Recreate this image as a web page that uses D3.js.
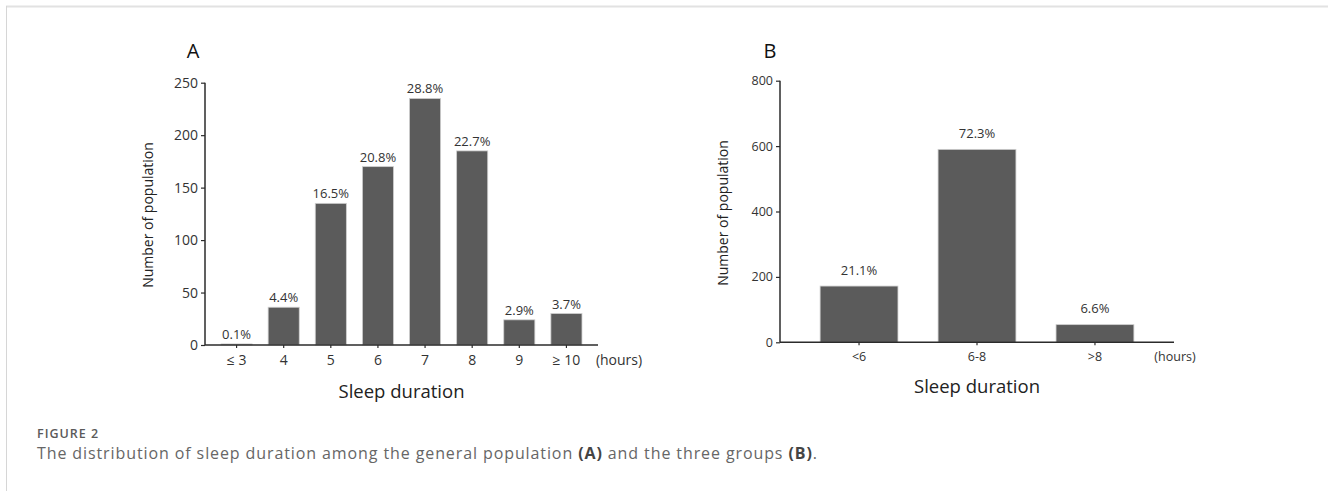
<!DOCTYPE html>
<html>
<head>
<meta charset="utf-8">
<script src="https://cdn.jsdelivr.net/npm/d3@7"></script>
<style>
  html, body { margin: 0; padding: 0; background: #fff; }
  svg text { font-family: "Open Sans", "Noto Sans", sans-serif; }
</style>
</head>
<body>
<svg id="chart" width="1328" height="491"></svg>
<script>
// panel A: every hour
const hoursA = ["≤ 3", "4", "5", "6", "7", "8", "9", "≥ 10"]
const countsA = [1, 36, 135, 170, 235, 185, 24, 30]
const pctA = ["0.1%", "4.4%", "16.5%", "20.8%", "28.8%", "22.7%", "2.9%", "3.7%"]
const ticksA = [0, 50, 100, 150, 200, 250]

// panel B: three groups
const groupsB = ["<6", "6-8", ">8"]
const countsB = [172, 590, 54]
const pctB = ["21.1%", "72.3%", "6.6%"]
const ticksB = [0, 200, 400, 600, 800]

const svg = d3.select("#chart")
const barColor = "#5b5b5b"
const axisColor = "#2b2b2b"
const textColor = "#333"

// frame of the figure box
svg.append("line").attr("x1", 6).attr("x2", 1328).attr("y1", 6.5).attr("y2", 6.5)
    .attr("stroke", "#e2e2e2").attr("stroke-width", 2)
svg.append("line").attr("x1", 6.5).attr("x2", 6.5).attr("y1", 6).attr("y2", 491)
    .attr("stroke", "#d6d6d6").attr("stroke-width", 1)

function drawPanel(opt) {

    const g = svg.append("g")

    const x = d3.scaleBand()
        .domain(opt.cats)
        .range([opt.left, opt.right])
        .padding(0.34)

    const y = d3.scaleLinear()
        .domain([0, opt.max])
        .range([opt.bottom, opt.top])

    // bars
    g.selectAll("rect")
        .data(opt.values)
        .join("rect")
        .attr("x", (d, i) => x(opt.cats[i]))
        .attr("width", x.bandwidth())
        .attr("y", d => y(d))
        .attr("height", d => opt.bottom - y(d))
        .attr("fill", barColor)
        .attr("stroke", "#cfcfcf")
        .attr("stroke-width", 0.8)

    // percent labels
    g.selectAll("text.pct")
        .data(opt.values)
        .join("text")
        .attr("class", "pct")
        .attr("x", (d, i) => x(opt.cats[i]) + x.bandwidth() / 2)
        .attr("y", d => y(d) - opt.pctGap)
        .attr("text-anchor", "middle")
        .attr("font-size", 13)
        .attr("fill", textColor)
        .text((d, i) => opt.pcts[i])

    // y axis
    const yAxis = g.append("g")
        .attr("transform", `translate(${opt.left},0)`)
        .call(d3.axisLeft(y).tickValues(opt.ticks).tickSize(4).tickPadding(3))
    yAxis.select(".domain").attr("stroke", axisColor).attr("stroke-width", 1.5)
        .attr("d", `M0,${opt.top}V${opt.bottom}`)
    yAxis.selectAll(".tick line").attr("stroke", axisColor).attr("stroke-width", 1.2)
    yAxis.selectAll(".tick text")
        .attr("font-family", "Open Sans, sans-serif")
        .attr("font-size", opt.yFont)
        .attr("fill", textColor)

    // x axis
    const xAxis = g.append("g")
        .attr("transform", `translate(0,${opt.bottom})`)
        .call(d3.axisBottom(x).tickSize(3).tickPadding(opt.xPad))
    xAxis.select(".domain").attr("stroke", axisColor).attr("stroke-width", 1.5)
        .attr("d", `M${opt.left},0H${opt.right}`)
    xAxis.selectAll(".tick line").attr("stroke", axisColor).attr("stroke-width", 1.2)
    xAxis.selectAll(".tick text")
        .attr("font-family", "Open Sans, sans-serif")
        .attr("font-size", opt.xFont)
        .attr("fill", textColor)

    // "(hours)"
    g.append("text")
        .attr("x", opt.right + opt.hoursDx)
        .attr("y", opt.bottom + opt.xPad + 3)
        .attr("dy", "0.71em")
        .attr("text-anchor", "middle")
        .attr("font-size", opt.xFont)
        .attr("fill", textColor)
        .text("(hours)")

    // axis titles
    g.append("text")
        .attr("x", (opt.left + opt.right) / 2)
        .attr("y", opt.bottom + opt.titleGap)
        .attr("text-anchor", "middle")
        .attr("font-size", 18.5)
        .attr("fill", "#222")
        .text("Sleep duration")

    g.append("text")
        .attr("transform", `translate(${opt.yTitleX},${opt.yTitleY}) rotate(-90)`)
        .attr("text-anchor", "middle")
        .attr("font-size", 14)
        .attr("fill", "#222")
        .text("Number of population")

    // panel letter
    g.append("text")
        .attr("x", opt.letterX)
        .attr("y", 58)
        .attr("text-anchor", "middle")
        .attr("font-size", 20)
        .attr("fill", "#111")
        .text(opt.letter)
}

drawPanel({
    letter: "A", letterX: 193,
    cats: hoursA, values: countsA, pcts: pctA, ticks: ticksA, max: 250,
    left: 205, right: 598, top: 82.7, bottom: 345,
    yFont: 14, xFont: 14, xPad: 7, pctGap: 5, hoursDx: 21,
    titleGap: 53, yTitleX: 153, yTitleY: 215
})

drawPanel({
    letter: "B", letterX: 770,
    cats: groupsB, values: countsB, pcts: pctB, ticks: ticksB, max: 800,
    left: 780, right: 1174, top: 80.7, bottom: 342.3,
    yFont: 12.5, xFont: 12.5, xPad: 7, pctGap: 11.5, hoursDx: 1,
    titleGap: 51, yTitleX: 728, yTitleY: 213
})

// caption
svg.append("text")
    .attr("x", 37).attr("y", 438)
    .attr("font-size", 12.5)
    .attr("font-weight", 600)
    .attr("letter-spacing", 1)
    .attr("fill", "#5a5a5a")
    .text("FIGURE 2")

const cap = svg.append("text")
    .attr("x", 37).attr("y", 459)
    .attr("font-size", 16)
    .attr("letter-spacing", 0.9)
    .attr("fill", "#666")
cap.append("tspan").text("The distribution of sleep duration among the general population ")
cap.append("tspan").attr("font-weight", 700).attr("fill", "#444").text("(A)")
cap.append("tspan").text(" and the three groups ")
cap.append("tspan").attr("font-weight", 700).attr("fill", "#444").text("(B)")
cap.append("tspan").text(".")
</script>
</body>
</html>
